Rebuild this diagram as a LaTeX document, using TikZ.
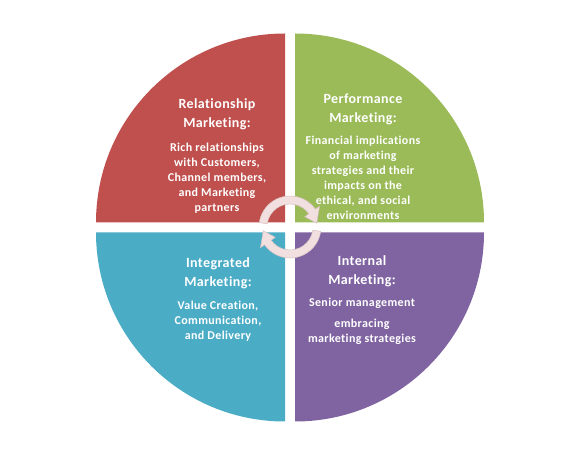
\documentclass[tikz,border=0pt]{standalone}
\usepackage{fontspec}
\setmainfont{Carlito}[Ligatures=NoCommon, LetterSpace=3]
\usetikzlibrary{positioning,calc}
\definecolor{relred}{HTML}{C0504D}
\definecolor{perfgreen}{HTML}{9BBB59}
\definecolor{integblue}{HTML}{4BACC6}
\definecolor{intpurple}{HTML}{8064A2}
\definecolor{arrowpink}{HTML}{F2E0E0}
\definecolor{arrowedge}{HTML}{D9C0C0}

\begin{document}
\begin{tikzpicture}[x=1pt, y=1pt, node distance=5pt]
    \tikzstyle{quadrant} = [draw=none]
    \tikzstyle{title} = [text=white, align=center, font=\bfseries\fontsize{14}{19}\selectfont]
    \tikzstyle{body} = [text=white, align=center, font=\bfseries\fontsize{12}{15}\selectfont]
    \tikzstyle{cyclearrow} = [fill=arrowpink, draw=arrowedge, line width=0.5pt]

    \useasboundingbox (0,0) rectangle (580,454);
    \coordinate (c) at (290,227);

    % Quadranten
    \fill[quadrant, relred] (285,231.5) -- ++(0,189) arc[start angle=90, end angle=180, radius=189] -- cycle;
    \fill[quadrant, perfgreen] (295,231.5) -- ++(189,0) arc[start angle=0, end angle=90, radius=189] -- cycle;
    \fill[quadrant, integblue] (285,221.5) -- ++(-189,0) arc[start angle=180, end angle=270, radius=189] -- cycle;
    \fill[quadrant, intpurple] (295,221.5) -- ++(0,-189) arc[start angle=270, end angle=360, radius=189] -- cycle;

    % Texte
    \node[title] (reltitle) at (217,340) {Relationship\\Marketing:};
    \node[body] (relbody) [below=6pt of reltitle] {Rich relationships\\with Customers,\\Channel members,\\and Marketing\\partners};
    \node[title] (perftitle) at (363,345) {Performance\\Marketing:};
    \node[body] (perfbody) [below=4pt of perftitle] {Financial implications\\of marketing\\strategies and their\\impacts on the\\ethical, and social\\environments};
    \node[title] (integtitle) at (218,181) {Integrated\\Marketing:};
    \node[body] (integbody) [below=5pt of integtitle] {Value Creation,\\Communication,\\and Delivery};
    \node[title] (inttitle) at (362,183) {Internal\\Marketing:};
    \node[body] (intsenior) [below=4pt of inttitle] {Senior management};
    \node[body] (intembrace) [below=4pt of intsenior] {embracing\\marketing strategies};

    % Kreispfeile
    \filldraw[cyclearrow] ($(c)+(172:31)$) arc[start angle=172, end angle=35, radius=31]
        -- ($(c)+(35:36)$) -- ($(c)+(8:27)$) -- ($(c)+(35:18)$) -- ($(c)+(35:23)$)
        arc[start angle=35, end angle=172, radius=23] -- cycle;
    \filldraw[cyclearrow] ($(c)+(-8:31)$) arc[start angle=-8, end angle=-145, radius=31]
        -- ($(c)+(-145:36)$) -- ($(c)+(-172:27)$) -- ($(c)+(-145:18)$) -- ($(c)+(-145:23)$)
        arc[start angle=-145, end angle=-8, radius=23] -- cycle;
\end{tikzpicture}
\end{document}
